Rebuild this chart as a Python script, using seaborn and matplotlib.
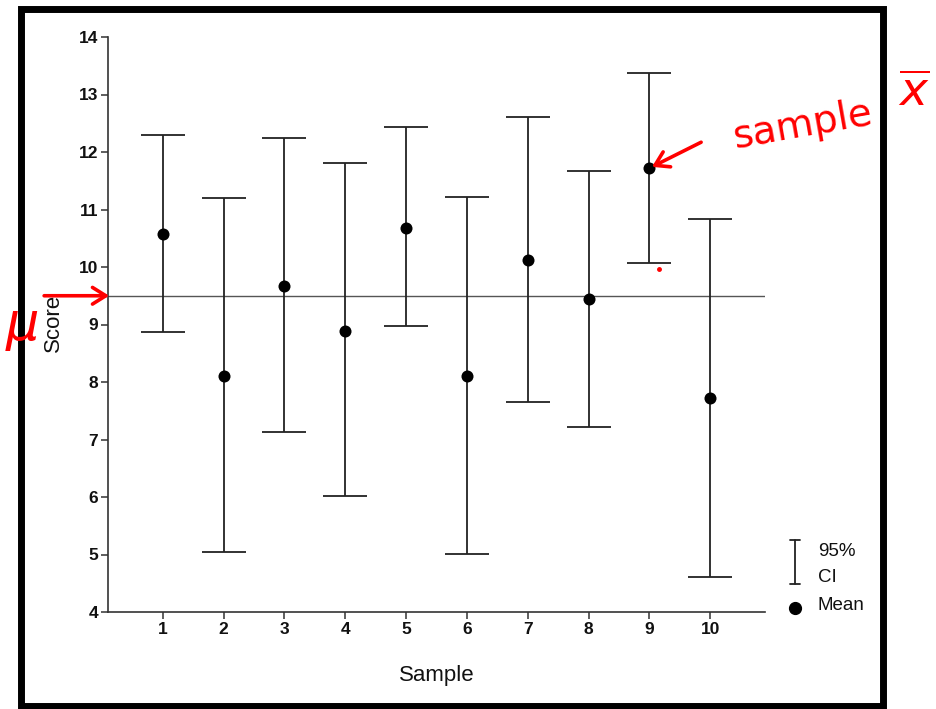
import matplotlib
matplotlib.use("Agg")
import matplotlib.pyplot as plt
import seaborn as sns
import pandas as pd
import numpy as np
from matplotlib.patches import Rectangle
from matplotlib.lines import Line2D

samples = [1, 2, 3, 4, 5, 6, 7, 8, 9, 10]
means = [10.57, 8.10, 9.67, 8.89, 10.68, 8.10, 10.12, 9.44, 11.72, 7.72]
ci_upper = [12.30, 11.20, 12.24, 11.81, 12.43, 11.21, 12.61, 11.67, 13.37, 10.83]
ci_lower = [8.87, 5.04, 7.13, 6.02, 8.97, 5.01, 7.65, 7.22, 10.07, 4.61]
mu = 9.5
y_ticks = [4, 5, 6, 7, 8, 9, 10, 11, 12, 13, 14]

df = pd.DataFrame({"Sample": samples, "Mean": means,
                   "Lower": ci_lower, "Upper": ci_upper})

sns.set_theme(style="ticks")
plt.rcParams["font.family"] = ["Liberation Sans", "DejaVu Sans"]

fig = plt.figure(figsize=(9.37, 7.09), dpi=100)
W, H = 937, 709
ax = fig.add_axes([108 / W, 1 - 612 / H, (765 - 108) / W, (612 - 37) / H])

# confidence intervals
ax.errorbar(df["Sample"], df["Mean"],
            yerr=[df["Mean"] - df["Lower"], df["Upper"] - df["Mean"]],
            fmt="none", ecolor="#222222", elinewidth=1.3, capsize=16,
            capthick=1.3, zorder=2)
# means
sns.scatterplot(data=df, x="Sample", y="Mean", ax=ax, color="black",
                s=75, edgecolor="black", linewidth=0, zorder=3, legend=False)
# population mean line
ax.axhline(mu, color="#555555", lw=1.0, zorder=1)

ax.set_xlim(0.1, 10.9)
ax.set_ylim(4, 14)
ax.set_xticks(samples)
ax.set_yticks(y_ticks)
ax.set_xticklabels([str(s) for s in samples], fontweight="bold", fontsize=12.5)
ax.set_yticklabels([str(t) for t in y_ticks], fontweight="bold", fontsize=12.5)
ax.tick_params(axis="both", length=5, width=1.1, color="#333333", pad=2,
               labelcolor="#111111")
for side in ["top", "right"]:
    ax.spines[side].set_visible(False)
for side in ["left", "bottom"]:
    ax.spines[side].set_color("#333333")
    ax.spines[side].set_linewidth(1.2)
ax.set_xlabel("Sample", fontsize=16, color="#111111")
ax.set_ylabel("Score", fontsize=16, color="#111111")
ax.xaxis.set_label_coords((437 - 108) / (765 - 108), -(676 - 612) / (612 - 37))
ax.yaxis.set_label_coords(-(108 - 53) / (765 - 108), (612 - 323) / (612 - 37))
ax.xaxis.label.set_verticalalignment("center")
ax.yaxis.label.set_verticalalignment("center")

# legend (custom)
def fx(px):
    return px / W

def fy(py):
    return 1 - py / H

lw = 1.3
fig.add_artist(Line2D([fx(795), fx(795)], [fy(540), fy(584)], color="#222222", lw=lw))
fig.add_artist(Line2D([fx(790), fx(800)], [fy(540), fy(540)], color="#222222", lw=lw))
fig.add_artist(Line2D([fx(790), fx(800)], [fy(584), fy(584)], color="#222222", lw=lw))
fig.add_artist(Line2D([fx(795)], [fy(608)], marker="o", markersize=8.5,
                      color="black", lw=0))
fig.text(fx(818), fy(551), "95%", fontsize=13.5, va="center", ha="left", color="#111111")
fig.text(fx(818), fy(578), "CI", fontsize=13.5, va="center", ha="left", color="#111111")
fig.text(fx(818), fy(606), "Mean", fontsize=13.5, va="center", ha="left", color="#111111")

# frame
fig.add_artist(Rectangle((fx(21.5), fy(705.5)), (883.5 - 21.5) / W, (705.5 - 8.5) / H,
                         transform=fig.transFigure, fill=False,
                         edgecolor="black", lw=5))

# red handwritten annotations
red = "#ff0000"
ax.annotate("", xy=(9.0, 11.72), xytext=(9.85, 12.17),
            arrowprops=dict(arrowstyle="->,head_length=0.8,head_width=0.5",
                            color=red, lw=2.6, shrinkA=0, shrinkB=2),
            annotation_clip=False)
fig.text(fx(803), fy(125), "sample", fontsize=28, color=red, rotation=10,
         ha="center", va="center", family=["DejaVu Sans"])
fig.text(fx(914), fy(95), r"$\overline{x}$", fontsize=34, color=red,
         ha="center", va="center")
ax.annotate("", xy=(0.12, mu), xytext=(-0.95, mu),
            arrowprops=dict(arrowstyle="->,head_length=0.8,head_width=0.5",
                            color=red, lw=2.6, shrinkA=0, shrinkB=0),
            annotation_clip=False)
fig.text(fx(22), fy(328), r"$\mu$", fontsize=38, color=red,
         ha="center", va="center")
ax.plot([9.15], [9.97], marker="o", markersize=2.5, color=red, clip_on=False)

fig.savefig("out.png", dpi=100)
